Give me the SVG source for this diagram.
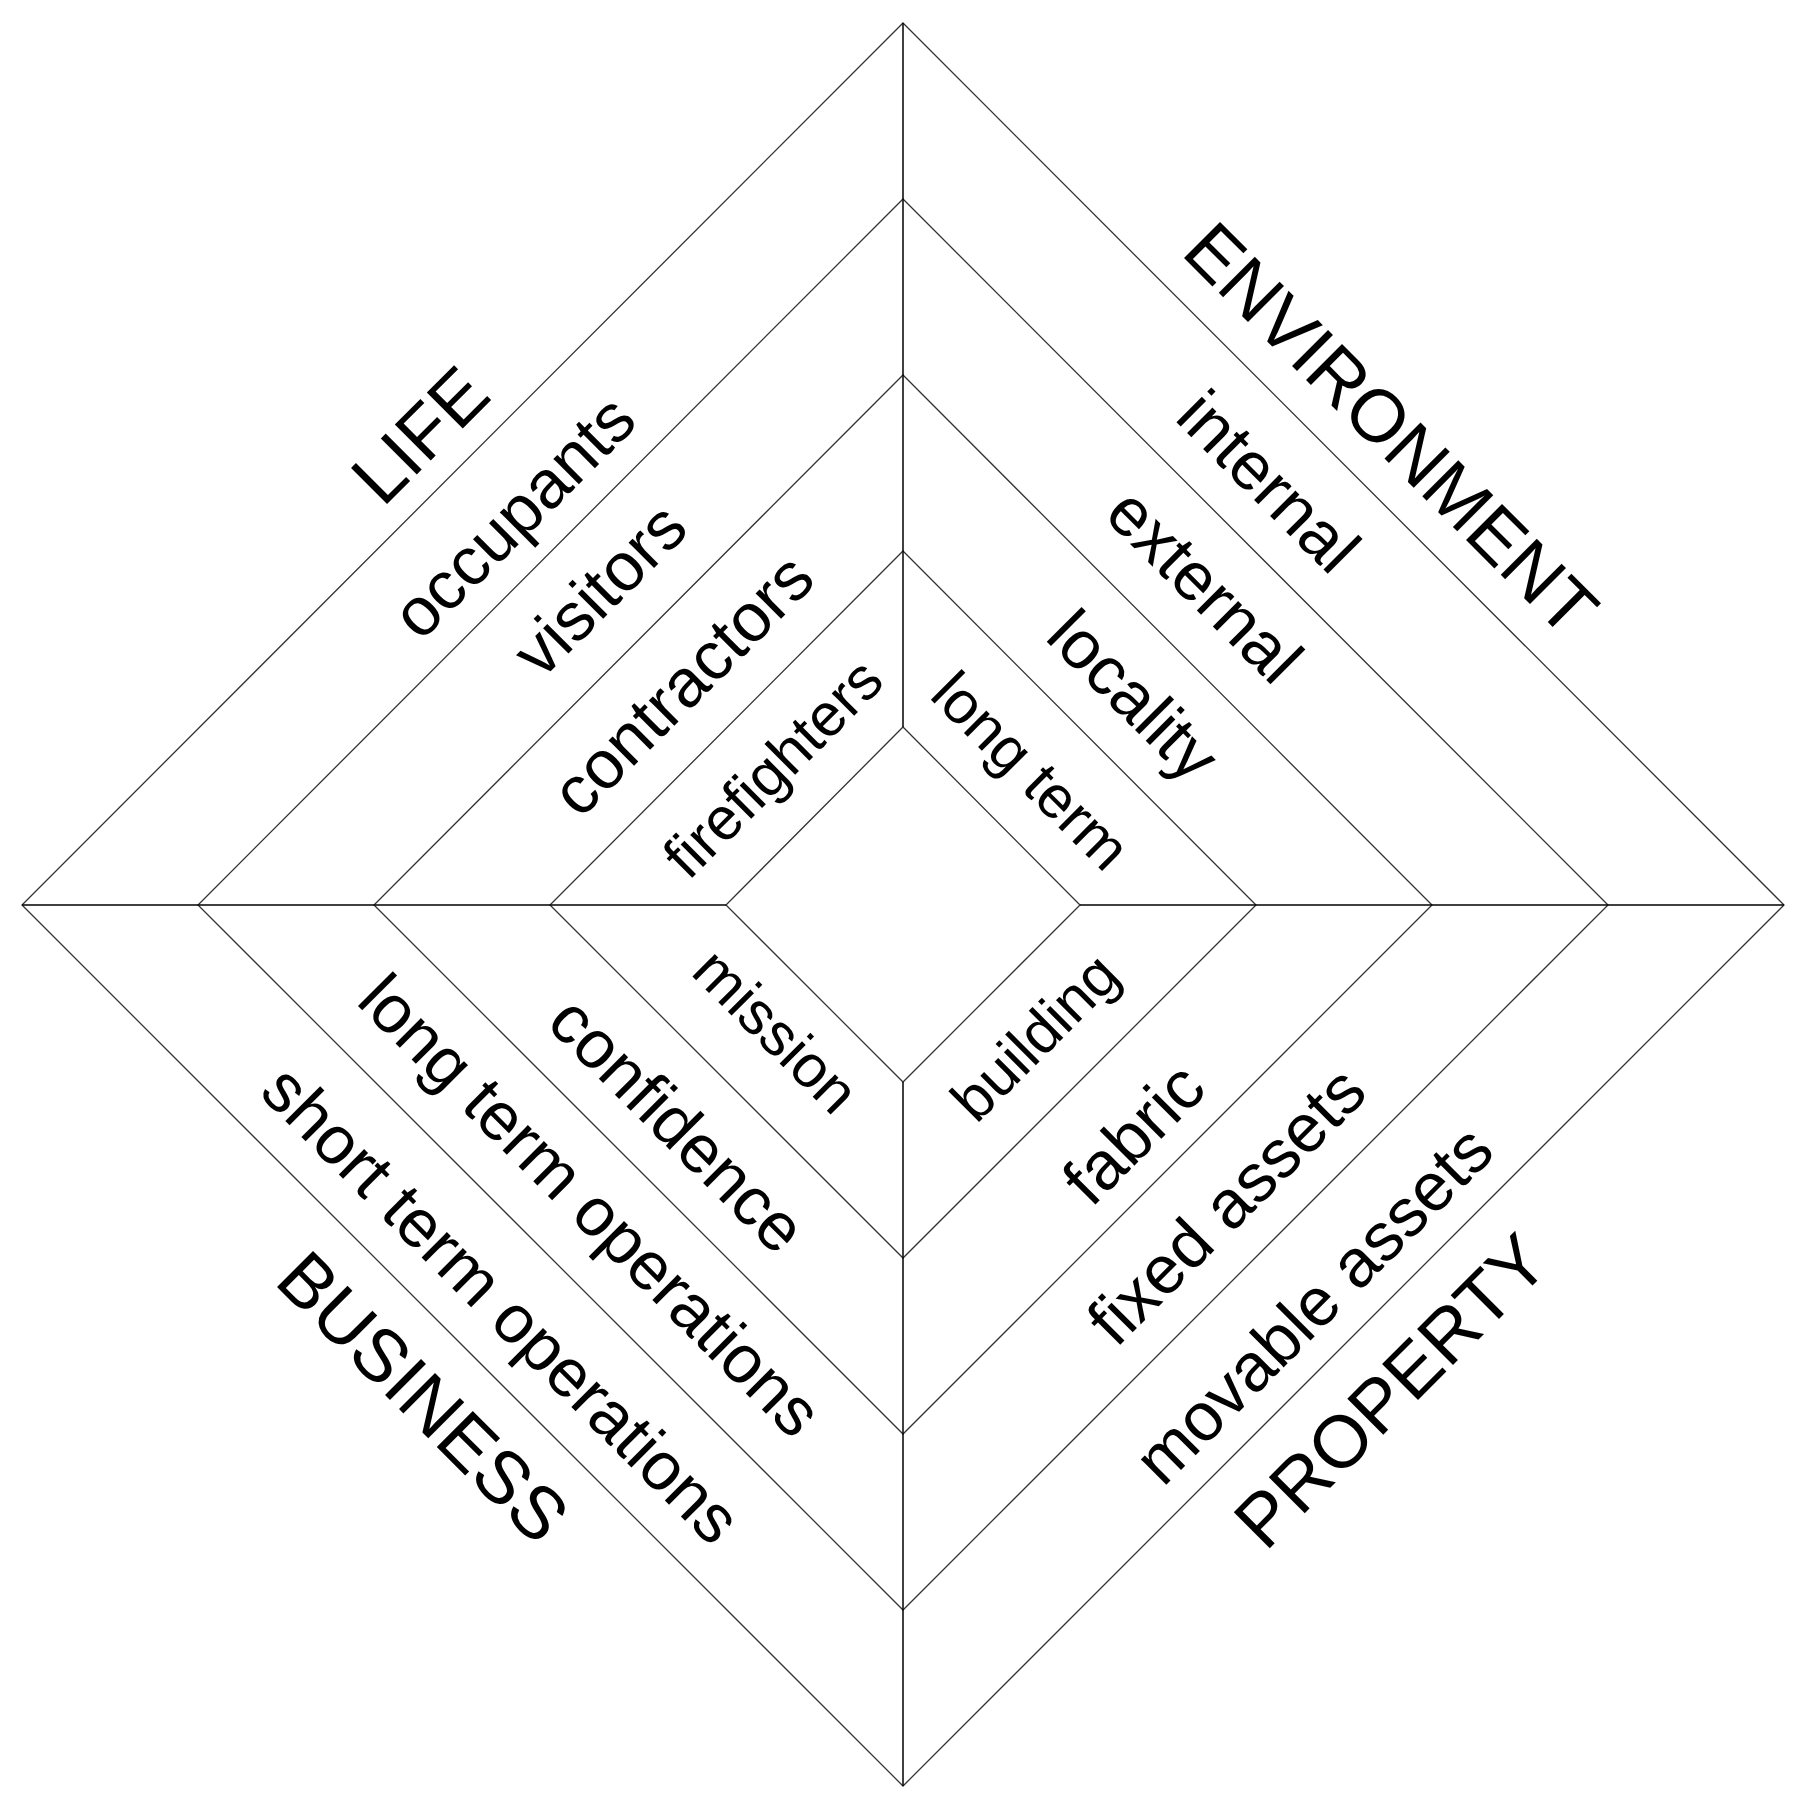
<svg xmlns="http://www.w3.org/2000/svg" width="1808" height="1816" viewBox="0 0 1808 1816">
<style>
.r{fill:none;stroke:#333;stroke-width:1.3}
.a{stroke:#000;stroke-width:1.5}
text{font-family:"Liberation Sans",Arial,sans-serif;fill:#000;text-anchor:middle;dominant-baseline:central}
.c{font-size:74px}.m{font-size:68px}.s{font-size:60px}
</style>
<rect width="1808" height="1816" fill="#fff"/>
<g id="connectors">
<polygon class="r" points="903,23 1784,905 903,1786 22,905"/>
<polygon class="r" points="903,199 1608,905 903,1610 198,905"/>
<polygon class="r" points="903,375 1432,905 903,1434 374,905"/>
<polygon class="r" points="903,551 1256,905 903,1258 550,905"/>
<polygon class="r" points="903,727 1080,905 903,1082 726,905"/>
<line class="a" x1="22" y1="905" x2="726" y2="905"/>
<line class="a" x1="1080" y1="905" x2="1784" y2="905"/>
<line class="a" x1="903" y1="23" x2="903" y2="727"/>
<line class="a" x1="903" y1="1082" x2="903" y2="1786"/>
</g>
<g id="life"><text class="c" transform="translate(420,435) rotate(-45)">LIFE</text></g>
<g id="occupants"><text class="m" transform="translate(513,516) rotate(-45)">occupants</text></g>
<g id="visitors"><text class="m" transform="translate(599,589) rotate(-45)">visitors</text></g>
<g id="contractors"><text class="m" transform="translate(682,684) rotate(-45)">contractors</text></g>
<g id="firefighters"><text class="s" transform="translate(773,768) rotate(-45)">firefighters</text></g>
<g id="environment"><text class="c" transform="translate(1391,429) rotate(45)">ENVIRONMENT</text></g>
<g id="internal"><text class="m" transform="translate(1269,481) rotate(45)">internal</text></g>
<g id="external"><text class="m" transform="translate(1205,585) rotate(45)">external</text></g>
<g id="locality"><text class="m" transform="translate(1134,695) rotate(45)">locality</text></g>
<g id="longterm"><text class="s" transform="translate(1031,771) rotate(45)">long term</text></g>
<g id="mission"><text class="s" transform="translate(776,1031) rotate(45)">mission</text></g>
<g id="confidence"><text class="m" transform="translate(678,1124) rotate(45)">confidence</text></g>
<g id="longtermops"><text class="m" transform="translate(591,1205) rotate(45)">long term operations</text></g>
<g id="shorttermops"><text class="m" transform="translate(502,1304) rotate(45)">short term operations</text></g>
<g id="business"><text class="c" transform="translate(423,1397) rotate(45)">BUSINESS</text></g>
<g id="building"><text class="s" transform="translate(1035,1037) rotate(-45)">building</text></g>
<g id="fabric"><text class="m" transform="translate(1133,1133) rotate(-45)">fabric</text></g>
<g id="fixedassets"><text class="m" transform="translate(1226,1205) rotate(-45)">fixed assets</text></g>
<g id="movableassets"><text class="m" transform="translate(1313,1304) rotate(-45)">movable assets</text></g>
<g id="property"><text class="c" transform="translate(1391,1391) rotate(-45)">PROPERTY</text></g>
</svg>
